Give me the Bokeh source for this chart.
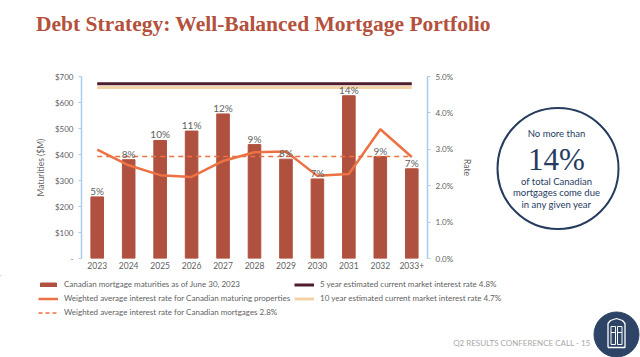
import numpy as np
from bokeh.plotting import figure
from bokeh.layouts import column, row
from bokeh.models import (FactorRange, Range1d, LinearAxis, FixedTicker, PrintfTickFormatter,
                          Label, LabelSet, ColumnDataSource, Legend, LegendItem, CategoricalAxis)
from bokeh.core.properties import value
from bokeh.embed import file_html
from bokeh.resources import INLINE

# ---------------- data ----------------
years = ["2023", "2024", "2025", "2026", "2027", "2028", "2029", "2030", "2031", "2032", "2033+"]
maturities = [237, 380, 454, 490, 556, 438, 382, 306, 626, 392, 345]      # $M
share_labels = ["5%", "8%", "10%", "11%", "12%", "9%", "8%", "7%", "14%", "9%", "7%"]
wavg_rate = [2.99, 2.56, 2.29, 2.24, 2.68, 2.92, 2.94, 2.27, 2.32, 3.55, 2.79]  # %
portfolio_rate = 2.8
rate_5yr = 4.8
rate_10yr = 4.7
left_ticks = [0, 100, 200, 300, 400, 500, 600, 700]
left_tick_labels = ["-", "$100", "$200", "$300", "$400", "$500", "$600", "$700"]
right_ticks = [0, 1, 2, 3, 4, 5]
legend_labels = [
    "Canadian mortgage maturities as of June 30, 2023",
    "Weighted average interest rate for Canadian maturing properties",
    "Weighted average interest rate for Canadian mortgages 2.8%",
    "5 year estimated current market interest rate 4.8%",
    "10 year estimated current market interest rate 4.7%",
]

# ---------------- style ----------------
BAR = "#B0503E"
ORANGE = "#EC7143"
DARK = "#4E1C2C"
BEIGE = "#F3D3A6"
NAVY = "#263C5F"
LOGO = "#2E4466"
AXIS_BLUE = "#A9CCEE"
GREY = "#5F5F5F"
FONT = "Lato"
DASH = "5 4"

PAGE_W, PAGE_H = 640, 357
TOP_H = 60          # title strip
MID_H = 215         # chart strip
BOT_H = PAGE_H - TOP_H - MID_H
CHART_W = 490
# page coords of the chart frame
FL, FR, FT, FB = 81, 427, 76, 258


def blank(w, h, x0=0, y0=0, b_top=0, b_bottom=0):
    """figure whose data coordinates are page pixels (y downward)"""
    f = figure(width=w, height=h, output_backend="svg", toolbar_location=None,
               x_range=Range1d(x0, x0 + w), y_range=Range1d(y0 + h - b_bottom, y0 + b_top),
               min_border_left=0, min_border_right=0, min_border_top=b_top,
               min_border_bottom=b_bottom, x_axis_location=None, y_axis_location=None,
               title=None)
    f.outline_line_color = None
    f.xgrid.visible = False
    f.ygrid.visible = False
    f.background_fill_color = "white"
    f.border_fill_color = "white"
    return f


def lab(f, x, y, text, size, color, font=FONT, align="center", style="normal"):
    f.add_layout(Label(x=x, y=y, text=text, text_font=font, text_font_size=size,
                       text_color=color, text_align=align, text_baseline="middle",
                       text_font_style=style))

# ---------------- title strip ----------------
top = blank(PAGE_W, TOP_H)
lab(top, 263, 23, "Debt Strategy: Well-Balanced Mortgage Portfolio", "21.5px", "#B4503C",
    font="Liberation Serif", style="bold")

# ---------------- chart ----------------
p = figure(width=CHART_W, height=MID_H, output_backend="svg", toolbar_location=None,
           x_range=FactorRange(*years, range_padding=0), y_range=Range1d(0, 700),
           min_border_left=FL, min_border_right=CHART_W - FR, min_border_top=FT - TOP_H,
           min_border_bottom=TOP_H + MID_H - FB, x_axis_location=None, y_axis_location=None,
           title=None)
p.outline_line_color = None
p.xgrid.visible = False
p.ygrid.visible = False
p.background_fill_color = "white"
p.border_fill_color = "white"
p.extra_y_ranges = {"rate": Range1d(0, 5)}

lax = LinearAxis(ticker=FixedTicker(ticks=left_ticks), axis_label="Maturities ($M)")
lax.major_label_overrides = {t: s for t, s in zip(left_ticks, left_tick_labels)}
rax = LinearAxis(y_range_name="rate", ticker=FixedTicker(ticks=right_ticks),
                 formatter=PrintfTickFormatter(format="%.1f%%"), axis_label="Rate")
for ax in (lax, rax):
    ax.axis_line_color = AXIS_BLUE
    ax.axis_line_width = 1.5
    ax.major_tick_line_color = AXIS_BLUE
    ax.major_tick_out = 3
    ax.major_tick_in = 0
    ax.minor_tick_line_color = None
    ax.major_label_text_font = FONT
    ax.major_label_text_font_size = "8px"
    ax.major_label_text_color = GREY
    ax.major_label_standoff = 5
    ax.axis_label_text_font = FONT
    ax.axis_label_text_font_size = "8.5px"
    ax.axis_label_text_font_style = "normal"
    ax.axis_label_text_color = GREY
    ax.axis_label_standoff = 6
p.add_layout(lax, "left")
p.add_layout(rax, "right")

bax = CategoricalAxis()
bax.axis_line_color = None
bax.major_tick_line_color = None
bax.major_tick_out = 0
bax.major_tick_in = 0
bax.minor_tick_line_color = None
bax.major_label_text_font = FONT
bax.major_label_text_font_size = "8.5px"
bax.major_label_text_color = GREY
bax.major_label_standoff = 3
p.add_layout(bax, "below")

src = ColumnDataSource(dict(x=years, top=maturities, lab=share_labels, rate=wavg_rate))
p.vbar(x="x", top="top", width=0.4, source=src, fill_color=BAR, line_color=BAR)
p.add_layout(LabelSet(x="x", y="top", text="lab", source=src, text_align="center",
                      text_baseline="bottom", text_font=value(FONT),
                      text_font_size="10px", text_color=GREY))
p.line(x=[years[0], years[-1]], y=[portfolio_rate, portfolio_rate], y_range_name="rate",
       line_color=ORANGE, line_width=1.5, line_dash=DASH)
p.line(x="x", y="rate", source=src, y_range_name="rate", line_color=ORANGE, line_width=2.5)
p.line(x=[years[0], years[-1]], y=[rate_5yr, rate_5yr], y_range_name="rate",
       line_color=DARK, line_width=3)
p.line(x=[years[0], years[-1]], y=[rate_10yr, rate_10yr], y_range_name="rate",
       line_color=BEIGE, line_width=3)

# ---------------- callout (frame aligned with the chart frame) ----------------
side = blank(PAGE_W - CHART_W, MID_H, x0=CHART_W, y0=TOP_H,
             b_top=FT - TOP_H, b_bottom=TOP_H + MID_H - FB)
side.circle(x=[557.5], y=[168], radius=60.5, fill_color=None, line_color=NAVY, line_width=2)
tx = 556
lab(side, tx, 133.3, "No more than", "9.5px", NAVY)
lab(side, tx, 159.3, "14%", "31px", NAVY, font="Liberation Serif")
lab(side, tx, 181, "of total Canadian", "9.5px", NAVY)
lab(side, tx, 192.3, "mortgages come due", "9.5px", NAVY)
lab(side, tx, 203.7, "in any given year", "9.5px", NAVY)

# ---------------- legend + footer ----------------
oy = TOP_H + MID_H
bot = blank(PAGE_W, BOT_H, y0=oy)
# legend proxies, placed far outside the visible range
r_bar = bot.vbar(x=[-5000], top=[-5000], bottom=[-5010], width=1, fill_color=BAR, line_color=BAR)
r_rate = bot.line(x=[-5010, -5000], y=[-5000, -5000], line_color=ORANGE, line_width=2.5)
r_dash = bot.line(x=[-5010, -5000], y=[-5000, -5000], line_color=ORANGE, line_width=1.5,
                  line_dash="4 3")
r_5 = bot.line(x=[-5010, -5000], y=[-5000, -5000], line_color=DARK, line_width=3)
r_10 = bot.line(x=[-5010, -5000], y=[-5000, -5000], line_color=BEIGE, line_width=3)
legend = Legend(items=[LegendItem(label=t, renderers=[r]) for t, r in
                       zip(legend_labels, [r_bar, r_rate, r_dash, r_5, r_10])],
                location=(38, BOT_H - 42), orientation="vertical", nrows=3)
legend.label_text_font = FONT
legend.label_text_font_size = "8px"
legend.label_text_color = GREY
legend.label_height = 10
legend.glyph_height = 5
legend.glyph_width = 20
legend.label_standoff = 6
legend.spacing = 4
legend.padding = 0
legend.margin = 0
legend.border_line_color = None
legend.background_fill_alpha = 0
bot.add_layout(legend)

lab(bot, 590, 342.7, "Q2 RESULTS CONFERENCE CALL - 15", "8px", "#A8A8A8", align="right")

# logo: navy disc with a white door outline
bot.circle(x=[616], y=[334], radius=22.5, fill_color=LOGO, line_color=LOGO)
bot.line(x=[607.5, 607.5, 610, 616, 622, 624.5, 624.5, 607.5],
         y=[347, 323, 320, 318, 320, 323, 347, 347], line_color="white", line_width=1.3)
bot.quad(left=[610.5, 617], right=[615, 621.5], top=[326, 326], bottom=[344, 344],
         fill_color=None, line_color="white", line_width=1)
bot.segment(x0=[610.5, 617], y0=[332, 332], x1=[615, 621.5], y1=[332, 332],
            line_color="white", line_width=1)

layout = column(top, row(p, side), bot)
open("out.html", "w").write(file_html(layout, INLINE))
